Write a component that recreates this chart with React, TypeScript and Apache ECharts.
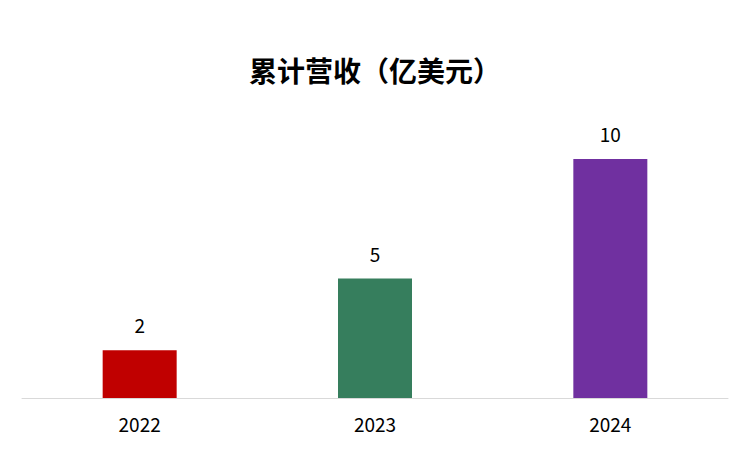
import React, { useEffect, useRef } from "react";
import * as echarts from "echarts";

const titleText = "累计营收（亿美元）";
const categories = ["2022", "2023", "2024"];
const values = [2, 5, 10];
const barColors = ["#C00000", "#367E5D", "#7030A0"];

export default function App() {
  const ref = useRef<HTMLDivElement>(null);
  useEffect(() => {
    const chart = echarts.init(ref.current!, null, { renderer: "svg" });
    chart.setOption({
      animation: false,
      title: {
        text: titleText,
        left: "center",
        top: 51,
        textStyle: {
          fontFamily: "Noto Sans CJK SC",
          fontSize: 28,
          fontWeight: "bold",
          color: "#000",
        },
      },
      grid: { left: 22, right: 22, top: 159, bottom: 53, containLabel: false },
      xAxis: {
        type: "category",
        data: categories,
        axisLine: { lineStyle: { color: "#D9D9D9", width: 1 } },
        axisTick: { show: false },
        axisLabel: {
          margin: 16,
          fontSize: 19,
          color: "#000",
          fontFamily: "Noto Sans CJK SC",
        },
      },
      yAxis: {
        type: "value",
        min: 0,
        max: 10,
        show: false,
        splitLine: { show: false },
      },
      series: [
        {
          type: "bar",
          barWidth: 74,
          data: values.map((v, i) => ({ value: v, itemStyle: { color: barColors[i] } })),
          label: {
            show: true,
            position: "top",
            distance: 16,
            fontSize: 19,
            color: "#000",
            fontFamily: "Noto Sans CJK SC",
          },
        },
      ],
    });
    return () => chart.dispose();
  }, []);
  return <div ref={ref} style={{ width: 750, height: 451, position: "fixed", left: 0, top: 0, background: "#fff" }} />;
}
